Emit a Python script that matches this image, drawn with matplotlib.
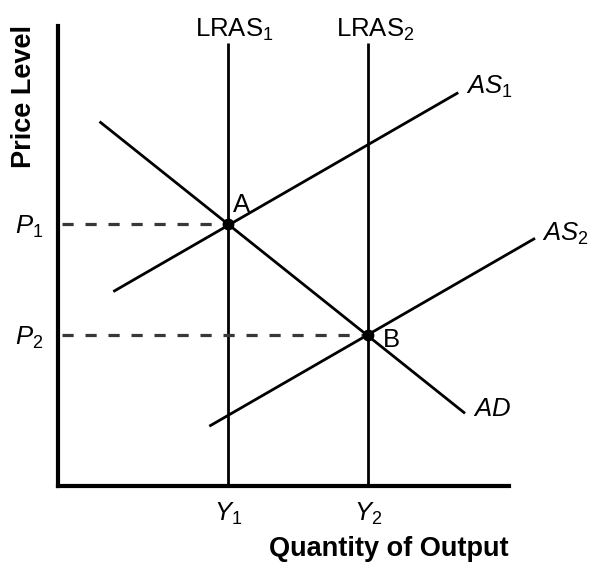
import matplotlib
matplotlib.use("Agg")
import matplotlib.pyplot as plt

plt.rcParams['font.family'] = ['Liberation Sans', 'DejaVu Sans']
plt.rcParams['mathtext.fontset'] = 'custom'
plt.rcParams['mathtext.rm'] = 'Liberation Sans'
plt.rcParams['mathtext.it'] = 'Liberation Sans:italic'
plt.rcParams['mathtext.bf'] = 'Liberation Sans:bold'

# ---- data (abstract units: x = output, y = price level) ----
Y1, Y2 = 3.77, 6.87          # long-run output levels
P1, P2 = 5.69, 3.28          # price levels at equilibria
LRAS_top = 9.63
AD_x = [0.93, 9.02]
AD_y = [7.92, 1.57]
AS1_x = [1.235, 8.87]
AS1_y = [4.22, 8.55]
AS2_x = [3.36, 10.57]
AS2_y = [1.29, 5.38]
x_ticks = [Y1, Y2]
x_tick_labels = [r'$Y_1$', r'$Y_2$']
y_ticks = [P1, P2]
y_tick_labels = [r'$P_1$', r'$P_2$']

W, H = 589, 564
fig = plt.figure(figsize=(W / 100, H / 100), dpi=100)
ax = fig.add_axes([57.5 / W, (H - 485.5) / H, 451.8 / W, 459.5 / H])
ax.set_xlim(0, 10)
ax.set_ylim(0, 10)

for s in ['top', 'right']:
    ax.spines[s].set_visible(False)
for s in ['left', 'bottom']:
    ax.spines[s].set_linewidth(3)
    ax.spines[s].set_color('black')
    ax.spines[s].set_capstyle('projecting')

lw = 2.0
# LRAS lines
ax.plot([Y1, Y1], [0, LRAS_top], color='black', lw=lw, solid_capstyle='butt')
ax.plot([Y2, Y2], [0, LRAS_top], color='black', lw=lw, solid_capstyle='butt')
# AD and AS curves
ax.plot(AD_x, AD_y, color='black', lw=lw, solid_capstyle='butt')
ax.plot(AS1_x, AS1_y, color='black', lw=lw, solid_capstyle='butt')
ax.plot(AS2_x, AS2_y, color='black', lw=lw, solid_capstyle='butt', clip_on=False)
# dashed guides
ax.plot([0.1, Y1], [P1, P1], color='#383838', lw=2.3, dashes=(3.5, 3.7))
ax.plot([0.1, Y2], [P2, P2], color='#383838', lw=2.3, dashes=(3.5, 3.7))
# equilibrium points
ax.plot([Y1, Y2], [P1, P2], 'o', color='black', markersize=7.5, zorder=5)

fs = 18.5
# ticks (labels only)
ax.set_xticks(x_ticks)
ax.set_xticklabels(x_tick_labels)
ax.set_yticks(y_ticks)
ax.set_yticklabels(y_tick_labels)
ax.tick_params(axis='both', length=0, labelsize=fs)
ax.tick_params(axis='x', pad=11)
ax.tick_params(axis='y', pad=10)

def lab(txt, xy, off, ha='left', va='baseline'):
    ax.annotate(txt, xy=xy, xytext=off, textcoords='offset pixels',
                ha=ha, va=va, fontsize=fs, annotation_clip=False)

lab(r'LRAS$_1$', (Y1, LRAS_top), (6, 6), ha='center')
lab(r'LRAS$_2$', (Y2, LRAS_top), (7, 6), ha='center')
lab(r'$AS_1$', (AS1_x[1], AS1_y[1]), (8, -1))
lab(r'$AS_2$', (AS2_x[1], AS2_y[1]), (7, -3))
lab(r'$AD$', (AD_x[1], AD_y[1]), (8, -3))
lab('A', (Y1, P1), (5, 12))
lab('B', (Y2, P2), (15, -12))

fig.text(24 / W, 1 - 97 / H, 'Price Level', rotation=90, ha='center', va='center',
         fontsize=19.5, fontweight='bold')
fig.text(509 / W, 1 - 549 / H, 'Quantity of Output', ha='right', va='center',
         fontsize=19.5, fontweight='bold')

fig.savefig('out.png', dpi=100)
